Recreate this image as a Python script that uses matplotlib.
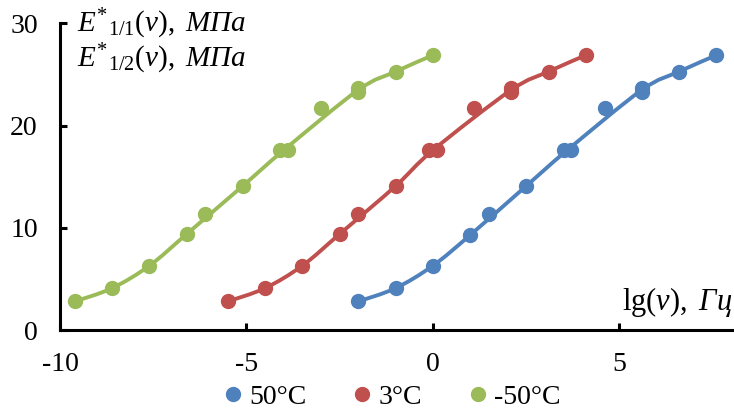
import matplotlib
matplotlib.use("Agg")
import matplotlib.pyplot as plt
from matplotlib.lines import Line2D
from matplotlib.path import Path
from matplotlib.patches import PathPatch

# E* vs lg(frequency) for three temperatures
x_50 = [-2.0, -1.0, 0.0, 1.0, 1.5, 2.5, 3.5, 3.7, 4.6, 5.6, 5.6, 6.6, 7.6]
y_50 = [2.8, 4.1, 6.3, 9.3, 11.4, 14.1, 17.6, 17.6, 21.7, 23.3, 23.7, 25.3, 26.9]

x_3 = [-5.5, -4.5, -3.5, -2.5, -2.0, -1.0, -0.1, 0.1, 1.1, 2.1, 2.1, 3.1, 4.1]
y_3 = [2.8, 4.1, 6.3, 9.4, 11.4, 14.1, 17.6, 17.6, 21.7, 23.3, 23.7, 25.3, 26.9]

x_m50 = [-9.6, -8.6, -7.6, -6.6, -6.1, -5.1, -4.1, -3.9, -3.0, -2.0, -2.0, -1.0, 0.0]
y_m50 = [2.8, 4.1, 6.3, 9.4, 11.4, 14.1, 17.6, 17.6, 21.7, 23.3, 23.7, 25.3, 26.9]

# points that lie a little off the smoothed curve (the curve skips them)
off_curve = [4, 8]

labels = ["50°C", "3°C", "-50°C"]
colors = ["#4F81BD", "#C0504D", "#9BBB59"]

x_ticks = [-10, -5, 0, 5]
y_ticks = [0, 10, 20, 30]


def merge_close(xs, ys, tol=0.3):
    """Average neighbouring points that sit almost on the same x"""
    mx, my = [xs[0]], [ys[0]]
    n = [1]
    for x, y in zip(xs[1:], ys[1:]):
        if abs(x - mx[-1]) < tol:
            k = n[-1]
            mx[-1] = (mx[-1] * k + x) / (k + 1)
            my[-1] = (my[-1] * k + y) / (k + 1)
            n[-1] = k + 1
        else:
            mx.append(x)
            my.append(y)
            n.append(1)
    return mx, my


def smooth_path(xs, ys):
    """Bezier path through the points (Excel-like smoothed line)"""
    px = [x for i, x in enumerate(xs) if i not in off_curve]
    py = [y for i, y in enumerate(ys) if i not in off_curve]
    px, py = merge_close(px, py)
    verts = [(px[0], py[0])]
    codes = [Path.MOVETO]
    for i in range(len(px) - 1):
        x0, y0 = (px[i - 1], py[i - 1]) if i > 0 else (px[i], py[i])
        x1, y1 = px[i], py[i]
        x2, y2 = px[i + 1], py[i + 1]
        x3, y3 = (px[i + 2], py[i + 2]) if i + 2 < len(px) else (x2, y2)
        c1 = (x1 + (x2 - x0) / 6, y1 + (y2 - y0) / 6)
        c2 = (x2 - (x3 - x1) / 6, y2 - (y3 - y1) / 6)
        verts += [c1, c2, (x2, y2)]
        codes += [Path.CURVE4] * 3
    return Path(verts, codes)


plt.rcParams['font.family'] = ['Liberation Serif', 'DejaVu Serif']
plt.rcParams['mathtext.fontset'] = 'custom'
plt.rcParams['mathtext.rm'] = 'Liberation Serif'
plt.rcParams['mathtext.it'] = 'Liberation Serif:italic'

fig = plt.figure(figsize=(7.34, 4.12), dpi=100)
ax = fig.add_axes([0.0817, 0.199, 0.9183, 0.744])

series = [(x_50, y_50), (x_3, y_3), (x_m50, y_m50)]
for (xs, ys), c in zip(series, colors):
    ax.add_patch(PathPatch(smooth_path(xs, ys), fill=False, edgecolor=c,
                           lw=2.8, capstyle='round'))
    ax.plot(xs, ys, ls='none', marker='o', ms=10, mec=c, mfc=c)

ax.set_xlim(-10, 8.07)
ax.set_ylim(0, 30)
ax.set_xticks(x_ticks)
ax.set_yticks(y_ticks)
ax.set_xticklabels([str(t) for t in x_ticks])
ax.set_yticklabels([str(t) for t in y_ticks])

for side in ['top', 'right']:
    ax.spines[side].set_visible(False)
for side in ['left', 'bottom']:
    ax.spines[side].set_linewidth(2.2)
ax.tick_params(direction='in', length=5, width=2.2, labelsize=20, pad=16)

# axis captions inside the plot area
fig.text(77 / 734, 1 - 32 / 412, r'$E^{*}{}_{1/1}(v),\ \mathit{МПа}$',
         fontsize=21, ha='left', va='baseline')
fig.text(77 / 734, 1 - 67 / 412, r'$E^{*}{}_{1/2}(v),\ \mathit{МПа}$',
         fontsize=21, ha='left', va='baseline')
fig.text(622 / 734, 1 - 310 / 412, r'$\mathrm{lg}(v),\ \mathit{Гц}$',
         fontsize=22, ha='left', va='baseline')

handles = [Line2D([], [], ls='none', marker='o', ms=10, color=c) for c in colors]
fig.legend(handles, labels, loc='center', bbox_to_anchor=(0.531, 0.036), ncol=3,
           frameon=False, fontsize=20, handletextpad=0.1, columnspacing=1.5,
           handlelength=1.0, borderpad=0.1)

fig.savefig("out.png", dpi=100)
